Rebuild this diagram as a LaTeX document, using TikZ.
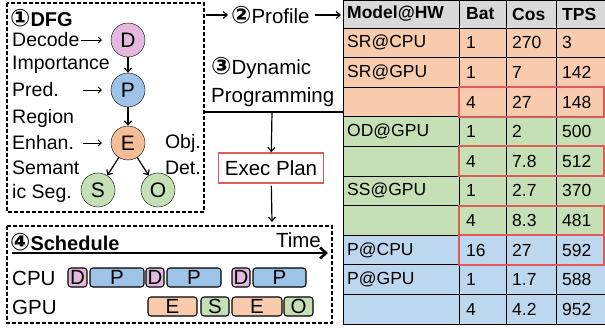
\documentclass[tikz,border=0pt]{standalone}
\usepackage{fontspec}
\usetikzlibrary{arrows.meta}
\setmainfont{Liberation Sans}
\newfontfamily\lfont{Liberation Sans}
\newfontfamily\symfont{DejaVu Sans}
\definecolor{dpink}{HTML}{E4B9DF}
\definecolor{pblue}{HTML}{9DC3E6}
\definecolor{eorange}{HTML}{F8CBAD}
\definecolor{ecircle}{HTML}{F6BE98}
\definecolor{sgreen}{HTML}{C5E0B4}
\definecolor{hgray}{HTML}{D9D9D9}
\definecolor{tblue}{HTML}{BDD7EE}
\definecolor{redbox}{HTML}{E05A5A}
\newcommand{\cnum}[1]{{\symfont\bfseries\fontsize{24}{24}\selectfont #1}}
\tikzset{
	lbl/.style={font=\lfont\fontsize{19.5}{21}\selectfont,inner sep=0pt,anchor=west},
	biglbl/.style={font=\lfont\fontsize{20.5}{22}\selectfont,inner sep=0pt,anchor=west},
	lblb/.style={font=\lfont\bfseries\fontsize{20}{22}\selectfont,inner sep=0pt,anchor=west},
	op/.style={circle,draw,minimum size=34pt,inner sep=0pt,font=\lfont\fontsize{21}{22}\selectfont},
	task/.style={draw,line width=1.1pt,rounded corners=3pt,minimum height=19pt,inner sep=0pt,font=\lfont\fontsize{20.5}{21}\selectfont},
	cell/.style={font=\fontsize{17.5}{19}\selectfont,inner sep=0pt,anchor=west},
	cellb/.style={font=\bfseries\fontsize{17.5}{19}\selectfont,inner sep=0pt,anchor=west},
	frame/.style={dash pattern=on 4pt off 2pt,line width=1.3pt},
	redframe/.style={draw=redbox,line width=2pt},
	flow/.style={-{Straight Barb[length=4pt,width=7pt]},line width=1.2pt},
	hint/.style={-{Straight Barb[length=3pt,width=6pt]},line width=0.8pt},
}
\begin{document}
\begin{tikzpicture}[x=1pt,y=-1pt]
	\useasboundingbox (0,0) rectangle (605,329);
	% DFG
	\draw[frame] (7,3) rectangle (204,212);
	\node[lblb] (dfg) at (10,18) {\cnum{①}DFG};
	\node[op,fill=dpink] (D) at (128,40) {D};
	\node[op,fill=pblue] (P) at (128,90) {P};
	\node[op,fill=ecircle] (E) at (128,143) {E};
	\node[op,fill=sgreen] (S) at (98,190) {S};
	\node[op,fill=sgreen] (O) at (158,190) {O};
	\draw[flow] (D) -- (P);
	\draw[flow] (P) -- (E);
	\draw[flow] (E) -- (S);
	\draw[flow] (E) -- (O);
	\node[lbl] (dec) at (12,40) {Decode};
	\node[lbl] (imp) at (12,65) {Importance};
	\node[lbl] (pred) at (12,90) {Pred.};
	\node[lbl] (reg) at (12,118) {Region};
	\node[lbl] (enh) at (12,143) {Enhan.};
	\node[lbl] (sem) at (12,168) {Semant};
	\node[lbl] (seg) at (12,193) {ic Seg.};
	\node[lbl,anchor=east] (obj) at (201,143) {Obj.};
	\node[lbl,anchor=east] (det) at (201,168) {Det.};
	\coordinate (predarr) at (83,90);
	\coordinate (enharr) at (83,143);
	\draw[hint,shorten <=1pt,shorten >=9pt] (dec) -- (D);
	\draw[hint,shorten >=9pt] (predarr) -- (P);
	\draw[hint,shorten >=9pt] (enharr) -- (E);
	% profile and planning
	\coordinate (dfgout) at (206,15);
	\node[biglbl] (prof) at (231,15) {\cnum{②}Profile};
	\node[biglbl] (dyn) at (211,68) {\cnum{③}Dynamic};
	\node[biglbl] (prog) at (211,97) {Programming};
	\draw[flow,shorten >=3pt] (dfgout) -- (prof);
	\coordinate (dpl) at (204,112);
	\coordinate (dpm) at (272,112);
	\coordinate (dpr) at (343,112);
	\draw[line width=1.3pt] (dpl) -- (dpr);
	\node[draw=redbox,line width=1.5pt,minimum width=105pt,minimum height=30pt,inner sep=0pt,
		font=\lfont\fontsize{20.5}{22}\selectfont] (plan) at (271,168) {Exec Plan};
	\coordinate (schedin) at (272,222);
	\draw[flow] (dpm) -- (plan);
	\draw[flow,shorten <=2pt] (plan) -- (schedin);
	% schedule
	\draw[frame] (7,226) rectangle (332,323);
	\node[lblb] (sch) at (10,242) {\cnum{④}Schedule};
	\node[biglbl,anchor=east] (time) at (321,240) {Time};
	\coordinate (tstart) at (12,253);
	\coordinate (tend) at (328,253);
	\draw[-{Straight Barb[length=6pt,width=11pt]},line width=2.6pt] (tstart) -- (tend);
	\node[biglbl] (cpu) at (12,278) {CPU};
	\node[biglbl] (gpu) at (12,307) {GPU};
	\node[task,fill=dpink,minimum width=19pt] (cd1) at (77.5,277.5) {D};
	\node[task,fill=pblue,minimum width=54pt] (cp1) at (117,277.5) {P};
	\node[task,fill=dpink,minimum width=18pt] (cd2) at (155,277.5) {D};
	\node[task,fill=pblue,minimum width=54pt] (cp2) at (194,277.5) {P};
	\node[task,fill=dpink,minimum width=18pt] (cd3) at (241,277.5) {D};
	\node[task,fill=pblue,minimum width=53pt] (cp3) at (279.5,277.5) {P};
	\node[task,fill=eorange,minimum width=49pt] (ge1) at (172.5,306.5) {E};
	\node[task,fill=sgreen,minimum width=28pt] (gs) at (215,306.5) {S};
	\node[task,fill=eorange,minimum width=50pt] (ge2) at (257,306.5) {E};
	\node[task,fill=sgreen,minimum width=29pt] (go) at (298.5,306.5) {O};
	% profile table
	\fill[hgray] (343,0) rectangle (605,28);
	\fill[eorange] (343,28) rectangle (605,116.8);
	\fill[sgreen] (343,116.8) rectangle (605,235.2);
	\fill[tblue] (343,235.2) rectangle (605,324);
	\draw[line width=0.8pt] (343,0) rectangle (605,324);
	\draw[line width=0.8pt] (343,28) -- (605,28) (343,57.6) -- (605,57.6) (343,87.2) -- (605,87.2)
		(343,116.8) -- (605,116.8) (343,146.4) -- (605,146.4) (343,176) -- (605,176)
		(343,205.6) -- (605,205.6) (343,235.2) -- (605,235.2) (343,264.8) -- (605,264.8)
		(343,294.4) -- (605,294.4);
	\draw[line width=0.8pt] (459,0) -- (459,324) (506,0) -- (506,324) (556,0) -- (556,324);
	\node[cellb] (hmodel) at (347,14) {Model@HW};
	\node[cellb] (hbat) at (466,14) {Bat};
	\node[cellb] (hcos) at (512,14) {Cos};
	\node[cellb] (htps) at (562,14) {TPS};
	\draw[flow,shorten <=5pt,shorten >=6pt] (prof.east) -- (prof.east -| hmodel.west);
	\node[cell] (m1) at (347,42.8) {SR@CPU};
	\node[cell] (b1) at (466,42.8) {1};
	\node[cell] (c1) at (512,42.8) {270};
	\node[cell] (t1) at (562,42.8) {3};
	\node[cell] (m2) at (347,72.4) {SR@GPU};
	\node[cell] (b2) at (466,72.4) {1};
	\node[cell] (c2) at (512,72.4) {7};
	\node[cell] (t2) at (562,72.4) {142};
	\node[cell] (b3) at (466,102) {4};
	\node[cell] (c3) at (512,102) {27};
	\node[cell] (t3) at (562,102) {148};
	\node[cell] (m4) at (347,131.6) {OD@GPU};
	\node[cell] (b4) at (466,131.6) {1};
	\node[cell] (c4) at (512,131.6) {2};
	\node[cell] (t4) at (562,131.6) {500};
	\node[cell] (b5) at (466,161.2) {4};
	\node[cell] (c5) at (512,161.2) {7.8};
	\node[cell] (t5) at (562,161.2) {512};
	\node[cell] (m6) at (347,190.8) {SS@GPU};
	\node[cell] (b6) at (466,190.8) {1};
	\node[cell] (c6) at (512,190.8) {2.7};
	\node[cell] (t6) at (562,190.8) {370};
	\node[cell] (b7) at (466,220.4) {4};
	\node[cell] (c7) at (512,220.4) {8.3};
	\node[cell] (t7) at (562,220.4) {481};
	\node[cell] (m8) at (347,250) {P@CPU};
	\node[cell] (b8) at (466,250) {16};
	\node[cell] (c8) at (512,250) {27};
	\node[cell] (t8) at (562,250) {592};
	\node[cell] (m9) at (347,279.6) {P@GPU};
	\node[cell] (b9) at (466,279.6) {1};
	\node[cell] (c9) at (512,279.6) {1.7};
	\node[cell] (t9) at (562,279.6) {588};
	\node[cell] (b10) at (466,309.2) {4};
	\node[cell] (c10) at (512,309.2) {4.2};
	\node[cell] (t10) at (562,309.2) {952};
	\draw[redframe] (459,87.2) rectangle (603.5,116.8);
	\draw[redframe] (459,146.4) rectangle (603.5,176);
	\draw[redframe] (459,205.6) rectangle (603.5,235.2);
	\draw[redframe] (459,235.2) rectangle (603.5,264.8);
\end{tikzpicture}
\end{document}
